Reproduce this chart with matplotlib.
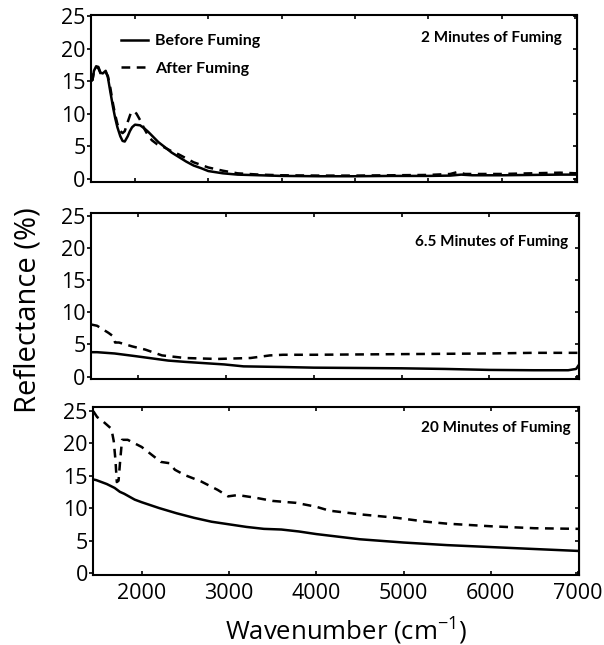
import matplotlib
matplotlib.use('Agg')
import matplotlib.pyplot as plt

plt.rcParams['font.family'] = ['Open Sans', 'DejaVu Sans']
plt.rcParams['mathtext.fontset'] = 'custom'
plt.rcParams['mathtext.rm'] = 'Open Sans'

# 2 minutes of fuming (top panel has its own wavenumber scale)
wn_2_before = [1400, 1420, 1440, 1470, 1500, 1530, 1560, 1600, 1630, 1660, 1700, 1730,
               1760, 1800, 1830, 1860, 1900, 1930, 1960, 2000, 2070, 2130, 2180, 2250,
               2320, 2400, 2500, 2600, 2700, 2800, 2900, 3000, 3200, 3400, 3700, 4000,
               4500, 5000, 5500, 6000, 6300, 6450, 6600, 7000, 7400, 7800, 8030]
r_2_before = [15.1, 15.2, 16.6, 17.3, 17.2, 16.3, 16.2, 16.6, 15.6, 13.6, 11.0, 9.3,
              7.9, 6.5, 5.8, 5.7, 6.5, 7.3, 7.9, 8.3, 8.2, 7.7, 7.2, 6.4,
              5.6, 4.9, 4.0, 3.3, 2.6, 2.0, 1.6, 1.15, 0.8, 0.6, 0.5, 0.4,
              0.35, 0.35, 0.4, 0.4, 0.45, 0.6, 0.5, 0.5, 0.55, 0.6, 0.6]
wn_2_after = [1400, 1420, 1440, 1470, 1500, 1530, 1560, 1600, 1630, 1660, 1700, 1730,
              1760, 1800, 1830, 1860, 1900, 1940, 1980, 2020, 2070, 2130, 2180, 2230,
              2300, 2400, 2500, 2600, 2700, 2800, 2900, 3000, 3200, 3400, 3700, 4000,
              4500, 5000, 5500, 6000, 6300, 6400, 6500, 7000, 7400, 7800, 8030]
r_2_after = [15.0, 15.2, 16.5, 17.2, 17.0, 16.2, 16.0, 16.4, 15.8, 14.2, 11.5, 9.8,
             8.4, 7.3, 7.0, 7.3, 8.7, 10.0, 10.4, 10.0, 9.0, 7.6, 6.6, 5.9,
             5.3, 4.8, 4.2, 3.7, 3.1, 2.5, 2.1, 1.7, 1.2, 0.8, 0.6, 0.5,
             0.45, 0.45, 0.5, 0.55, 0.7, 1.0, 0.7, 0.7, 0.8, 0.9, 0.8]

# 6.5 minutes of fuming
wn_65_before = [1461, 1530, 1730, 1960, 2340, 2530, 2980, 3200, 3650, 4000, 4500, 5000,
                5500, 6000, 6500, 6900, 6990, 7020]
r_65_before = [3.8, 3.8, 3.6, 3.2, 2.5, 2.3, 1.9, 1.6, 1.5, 1.4, 1.35, 1.3,
               1.2, 1.05, 1.0, 1.0, 1.2, 1.8]
wn_65_after = [1461, 1530, 1660, 1720, 1735, 1780, 1930, 2080, 2270, 2530, 2900, 3280,
               3500, 3650, 4000, 5000, 6000, 6500, 7020]
r_65_after = [8.1, 7.9, 6.8, 6.2, 5.3, 5.3, 4.7, 4.2, 3.3, 2.9, 2.75, 2.9,
              3.3, 3.4, 3.4, 3.5, 3.6, 3.7, 3.7]

# 20 minutes of fuming
wn_20_before = [1446, 1480, 1600, 1690, 1750, 1800, 1920, 2000, 2200, 2400, 2600, 2800,
                3000, 3200, 3400, 3600, 3800, 4000, 4500, 5000, 5500, 6000, 6500, 7010]
r_20_before = [14.4, 14.3, 13.7, 13.1, 12.5, 12.2, 11.3, 10.9, 10.0, 9.2, 8.5, 7.9,
               7.5, 7.1, 6.8, 6.7, 6.4, 6.0, 5.2, 4.7, 4.3, 4.0, 3.7, 3.4]
wn_20_after = [1446, 1490, 1560, 1653, 1680, 1700, 1715, 1735, 1755, 1775, 1840, 2000,
               2220, 2320, 2380, 2490, 2680, 2870, 2990, 3100, 3300, 3500, 3770, 4000,
               4150, 4530, 4920, 5260, 5500, 6000, 6500, 7010]
r_20_after = [24.9, 24.0, 23.3, 22.2, 20.3, 17.3, 14.0, 14.2, 17.5, 20.5, 20.5, 19.4,
              17.1, 16.9, 15.9, 15.1, 14.1, 12.8, 11.8, 12.0, 11.6, 11.1, 10.8, 10.2,
              9.6, 9.0, 8.5, 7.9, 7.6, 7.2, 6.9, 6.8]

y_ticks = [0, 5, 10, 15, 20, 25]

panels = [
    # rect, xlim, ylim, xticks, data, label, label position
    ([0.1507, 0.7186, 0.8046, 0.2581], (1400, 8030), (-0.46, 25.2),
     range(2000, 8001, 1000),
     (wn_2_before, r_2_before, wn_2_after, r_2_after),
     '2 Minutes of Fuming', (0.969, 0.862)),
    ([0.1507, 0.4124, 0.8079, 0.2574], (1461, 7023), (-0.36, 25.4),
     range(2000, 7001, 1000),
     (wn_65_before, r_65_before, wn_65_after, r_65_after),
     '6.5 Minutes of Fuming', (0.977, 0.825)),
    ([0.1545, 0.1085, 0.8041, 0.2600], (1446, 7010), (-0.3, 25.5),
     range(2000, 7001, 1000),
     (wn_20_before, r_20_before, wn_20_after, r_20_after),
     '20 Minutes of Fuming', (0.983, 0.878)),
]

fig = plt.figure(figsize=(6.04, 6.45), dpi=100)

axes = []
for i, (rect, xlim, ylim, xticks, data, label, pos) in enumerate(panels):
    ax = fig.add_axes(rect)
    wb, rb, wa, ra = data
    ax.plot(wb, rb, '-', color='black', lw=1.8, label='Before Fuming')
    ax.plot(wa, ra, '--', color='black', lw=1.8, dashes=(3.5, 2.6), label='After Fuming')
    ax.set_xlim(*xlim)
    ax.set_ylim(*ylim)
    ax.set_xticks(list(xticks))
    ax.set_yticks(y_ticks)
    for s in ax.spines.values():
        s.set_linewidth(1.5)
    ax.tick_params(axis='y', which='both', direction='out', length=3, width=1.2,
                   labelsize=15.5, pad=1, right=False)
    ax.tick_params(axis='x', which='both', direction='in', length=3, width=1.2,
                   labelsize=15.5, pad=6, top=True)
    # right side ticks point inward
    ax2 = ax.secondary_yaxis('right')
    ax2.set_yticks(y_ticks)
    ax2.tick_params(direction='in', length=3, width=1.2, labelright=False)
    if i < 2:
        ax.tick_params(labelbottom=False)
    ax.text(pos[0], pos[1], label, transform=ax.transAxes, ha='right', va='center',
            fontsize=11, fontweight='bold', family=['Lato', 'DejaVu Sans'])
    axes.append(ax)

axes[0].legend(loc='upper left', bbox_to_anchor=(0.0617, 0.886), frameon=False,
               borderaxespad=0, borderpad=0, handlelength=1.7, handletextpad=0.45,
               labelspacing=0.85, prop={'family': 'Lato', 'weight': 'bold', 'size': 11.5})

fig.text(0.046, (645 - 310) / 645, 'Reflectance (%)', rotation=90, ha='center',
         va='center', fontsize=21)
fig.text(346 / 604, (645 - 639) / 645, 'Wavenumber (cm$^{\\mathregular{-1}}$)',
         ha='center', va='baseline', fontsize=18.5)

plt.savefig('out.png', dpi=100)
